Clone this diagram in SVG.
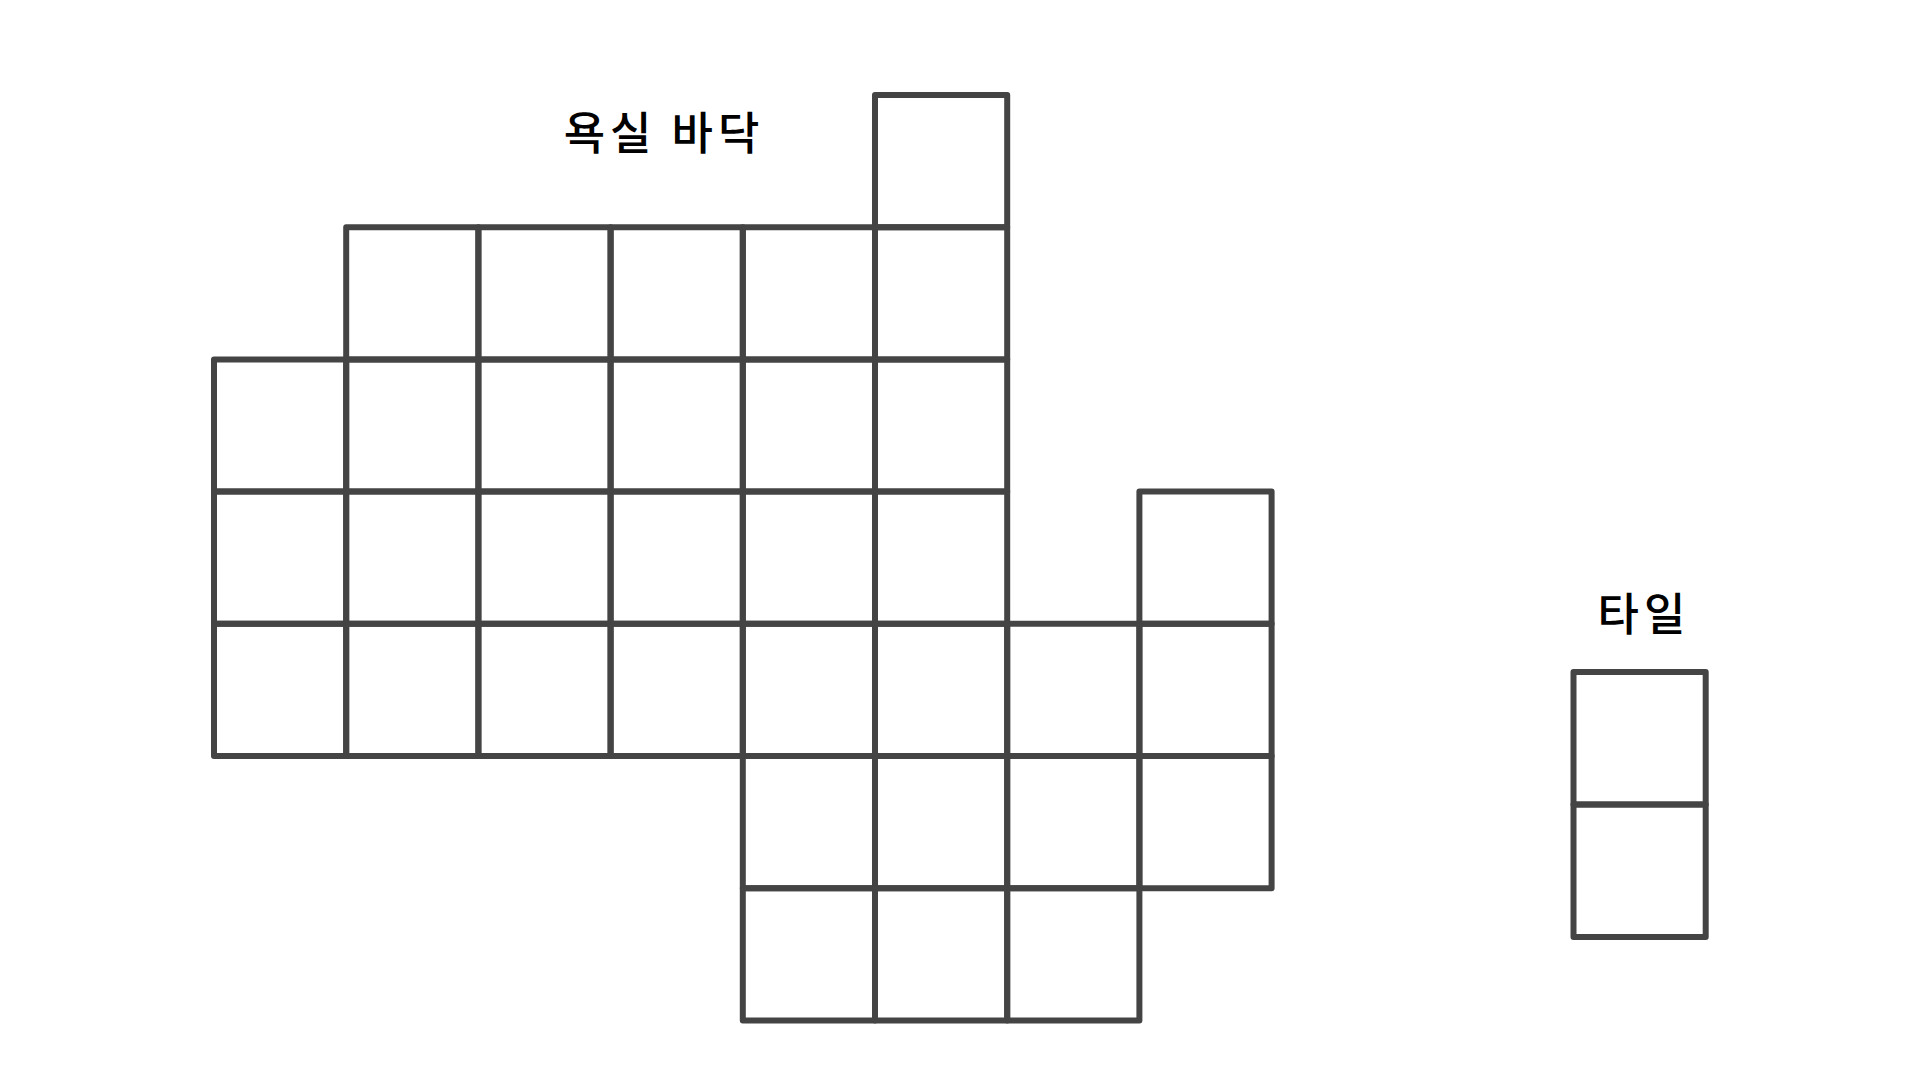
<svg xmlns="http://www.w3.org/2000/svg" width="1920" height="1080" viewBox="0 0 1920 1080">
<style>
.c{fill:none;stroke:#444;stroke-width:6;stroke-linejoin:round;stroke-linecap:round}
.t{font-family:"Noto Sans CJK KR","Noto Sans",sans-serif;font-size:45px;fill:#000;text-anchor:middle;font-weight:500;letter-spacing:5px}
</style>
<rect width="1920" height="1080" fill="#fff"/>
<g id="floor">
<rect id="r0c5" class="c" x="875" y="95" width="132.2" height="132.2"/>
<rect id="r1c1" class="c" x="346.2" y="227.2" width="132.2" height="132.2"/>
<rect id="r1c2" class="c" x="478.4" y="227.2" width="132.2" height="132.2"/>
<rect id="r1c3" class="c" x="610.6" y="227.2" width="132.2" height="132.2"/>
<rect id="r1c4" class="c" x="742.8" y="227.2" width="132.2" height="132.2"/>
<rect id="r1c5" class="c" x="875" y="227.2" width="132.2" height="132.2"/>
<rect id="r2c0" class="c" x="214" y="359.4" width="132.2" height="132.2"/>
<rect id="r2c1" class="c" x="346.2" y="359.4" width="132.2" height="132.2"/>
<rect id="r2c2" class="c" x="478.4" y="359.4" width="132.2" height="132.2"/>
<rect id="r2c3" class="c" x="610.6" y="359.4" width="132.2" height="132.2"/>
<rect id="r2c4" class="c" x="742.8" y="359.4" width="132.2" height="132.2"/>
<rect id="r2c5" class="c" x="875" y="359.4" width="132.2" height="132.2"/>
<rect id="r3c0" class="c" x="214" y="491.6" width="132.2" height="132.2"/>
<rect id="r3c1" class="c" x="346.2" y="491.6" width="132.2" height="132.2"/>
<rect id="r3c2" class="c" x="478.4" y="491.6" width="132.2" height="132.2"/>
<rect id="r3c3" class="c" x="610.6" y="491.6" width="132.2" height="132.2"/>
<rect id="r3c4" class="c" x="742.8" y="491.6" width="132.2" height="132.2"/>
<rect id="r3c5" class="c" x="875" y="491.6" width="132.2" height="132.2"/>
<rect id="r3c7" class="c" x="1139.4" y="491.6" width="132.2" height="132.2"/>
<rect id="r4c0" class="c" x="214" y="623.8" width="132.2" height="132.2"/>
<rect id="r4c1" class="c" x="346.2" y="623.8" width="132.2" height="132.2"/>
<rect id="r4c2" class="c" x="478.4" y="623.8" width="132.2" height="132.2"/>
<rect id="r4c3" class="c" x="610.6" y="623.8" width="132.2" height="132.2"/>
<rect id="r4c4" class="c" x="742.8" y="623.8" width="132.2" height="132.2"/>
<rect id="r4c5" class="c" x="875" y="623.8" width="132.2" height="132.2"/>
<rect id="r4c6" class="c" x="1007.2" y="623.8" width="132.2" height="132.2"/>
<rect id="r4c7" class="c" x="1139.4" y="623.8" width="132.2" height="132.2"/>
<rect id="r5c4" class="c" x="742.8" y="756" width="132.2" height="132.2"/>
<rect id="r5c5" class="c" x="875" y="756" width="132.2" height="132.2"/>
<rect id="r5c6" class="c" x="1007.2" y="756" width="132.2" height="132.2"/>
<rect id="r5c7" class="c" x="1139.4" y="756" width="132.2" height="132.2"/>
<rect id="r6c4" class="c" x="742.8" y="888.2" width="132.2" height="132.2"/>
<rect id="r6c5" class="c" x="875" y="888.2" width="132.2" height="132.2"/>
<rect id="r6c6" class="c" x="1007.2" y="888.2" width="132.2" height="132.2"/>
</g>
<g id="tile">
<rect id="tile-a" class="c" x="1573.5" y="672" width="132.2" height="132.5"/>
<rect id="tile-b" class="c" x="1573.5" y="804.5" width="132.2" height="132.5"/>
</g>
<g id="labels">
<text id="floor-label" class="t" x="664" y="150">욕실 바닥</text>
<text id="tile-label" class="t" x="1644" y="631">타일</text>
</g>
<g id="connectors"/>
</svg>
